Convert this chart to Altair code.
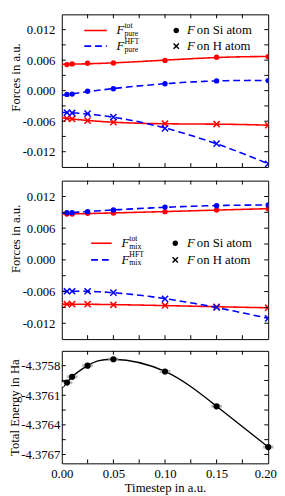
import altair as alt
import pandas as pd

# ---------------- data ----------------
timesteps = [0.005, 0.01, 0.025, 0.05, 0.1, 0.15, 0.2]

pure_tot_si = [0.00513, 0.00526, 0.00538, 0.00544, 0.00594, 0.00656, 0.00668]
pure_hft_si = [-0.00074, -0.00068, -0.00012, 0.00037, 0.00136, 0.00192, 0.00198]
pure_tot_h = [-0.00544, -0.00557, -0.00588, -0.00620, -0.00650, -0.00660, -0.00680]
pure_hft_h = [-0.00433, -0.00439, -0.00452, -0.00520, -0.00742, -0.01040, -0.01440]

mix_tot_si = [0.00869, 0.00869, 0.00881, 0.00888, 0.00913, 0.00944, 0.00969]
mix_hft_si = [0.00894, 0.00894, 0.00913, 0.00944, 0.01000, 0.01025, 0.01038]
mix_tot_h = [-0.00838, -0.00838, -0.00838, -0.00850, -0.00863, -0.00888, -0.00906]
mix_hft_h = [-0.00594, -0.00594, -0.00594, -0.00619, -0.00738, -0.00900, -0.01106]

energy = [-4.375972, -4.375913, -4.375800, -4.375735, -4.375859, -4.376212, -4.376625]
extrap_step = [0.0]
extrap_energy = [-4.37599]

x_labels = [0.0, 0.05, 0.1, 0.15, 0.2]
x_ticks = [0.025, 0.05, 0.075, 0.1, 0.125, 0.15, 0.175]
force_labels = [-0.012, -0.006, 0.0, 0.006, 0.012]
force_ticks = [-0.012, -0.009, -0.006, -0.003, 0.0, 0.003, 0.006, 0.009, 0.012]
energy_labels = [-4.3767, -4.3764, -4.3761, -4.3758]
energy_ticks = [-4.3767, -4.37655, -4.3764, -4.37625, -4.3761, -4.37595, -4.3758]

# ---------------- styling ----------------
W = 211
H1, H2, H3 = 156, 162, 115
TL = 4
FONT = "Liberation Serif, Times New Roman, DejaVu Serif, serif"
RED = "#ff0000"
BLUE = "#0000ff"
MINUS = "\u2212"
X_DOMAIN = [0, 0.2]
FORCE_DOMAIN = [-0.015, 0.015]
ENERGY_DOMAIN = [-4.37679, -4.37565]
CROSS = "M-1,-1L1,1M-1,1L1,-1"

one = alt.Data(values=[{}])


def force_frame(si_tot, si_hft, h_tot, h_hft):
    rows = []
    for kind, atom, vals in [("tot", "Si", si_tot), ("HFT", "Si", si_hft),
                             ("tot", "H", h_tot), ("HFT", "H", h_hft)]:
        for t, v in zip(timesteps, vals):
            rows.append({"t": t, "F": v, "kind": kind, "atom": atom, "series": kind + atom})
    return pd.DataFrame(rows)


def txt(s, x, y, size=13, italic=False):
    return alt.Chart(one).mark_text(
        text=s, font=FONT, fontSize=size, fontStyle="italic" if italic else "normal",
        align="left", baseline="middle", color="black"
    ).encode(x=alt.value(x), y=alt.value(y))


def tick_rules(x_enc, y_enc, xfield, yfield, xt, yt, h):
    xdf = pd.DataFrame({xfield: xt})
    ydf = pd.DataFrame({yfield: yt})
    bx = alt.Chart(xdf).mark_rule(color="black", strokeWidth=1)
    by = alt.Chart(ydf).mark_rule(color="black", strokeWidth=1)
    return [
        bx.encode(x=x_enc, y=alt.value(0), y2=alt.value(TL)),
        bx.encode(x=x_enc, y=alt.value(h), y2=alt.value(h - TL)),
        by.encode(y=y_enc, x=alt.value(0), x2=alt.value(TL)),
        by.encode(y=y_enc, x=alt.value(W), x2=alt.value(W - TL)),
    ]


color_enc = alt.Color("kind:N", scale=alt.Scale(domain=["tot", "HFT"], range=[RED, BLUE]), legend=None)
dash_enc = alt.StrokeDash("kind:N", scale=alt.Scale(domain=["tot", "HFT"], range=[[1, 0], [7, 4]]), legend=None)


def force_panel(df, h, title_y, sub, leg):
    x_enc = alt.X("t:Q", scale=alt.Scale(domain=X_DOMAIN, nice=False, zero=False), axis=None)
    y_enc = alt.Y("F:Q", scale=alt.Scale(domain=FORCE_DOMAIN, nice=False, zero=False),
                  axis=alt.Axis(values=force_labels, format=".3f",
                                labelExpr=f"replace(datum.label, '{MINUS}', '-')",
                                ticks=False, domain=False, grid=False,
                                title="Forces in a.u.", titleY=title_y,
                                labelPadding=7, titlePadding=0))
    base = alt.Chart(df)
    # smooth fit curves (computed by Vega from the plotted points), drawn over the full 0..0.2 range
    lines = base.transform_regression(
        "t", "F", groupby=["kind", "atom", "series"], method="poly", order=3, extent=X_DOMAIN
    ).mark_line(strokeWidth=1.6, clip=True).encode(
        x=x_enc, y=y_enc, color=color_enc, strokeDash=dash_enc, detail="series:N")
    si = base.transform_filter(alt.datum.atom == "Si").mark_point(
        shape="circle", filled=True, size=30, opacity=1, clip=True).encode(x=x_enc, y=y_enc, color=color_enc)
    hh = base.transform_filter(alt.datum.atom == "H").mark_point(
        shape=CROSS, filled=False, size=40, strokeWidth=1.5, opacity=1, clip=True).encode(
        x=x_enc, y=y_enc, stroke=alt.Stroke("kind:N", scale=alt.Scale(domain=["tot", "HFT"], range=[RED, BLUE]), legend=None))
    layers = [lines, si, hh] + tick_rules(x_enc, y_enc, "t", "F", x_ticks, force_ticks, h)

    lx1, lx2, fx, y1, y2, bx, sx = leg
    layers += [
        alt.Chart(one).mark_rule(color=RED, strokeWidth=1.6).encode(
            x=alt.value(lx1), x2=alt.value(lx2), y=alt.value(y1)),
        alt.Chart(one).mark_rule(color=BLUE, strokeWidth=1.6, strokeDash=[7, 4]).encode(
            x=alt.value(lx1), x2=alt.value(lx2), y=alt.value(y2)),
        txt("F", fx, y1, italic=True),
        txt("tot", fx + 8, y1 - 4.5, size=8),
        txt(sub, fx + 8, y1 + 3.5, size=8),
        txt("F", fx, y2, italic=True),
        txt("HFT", fx + 8, y2 - 4.5, size=8),
        txt(sub, fx + 8, y2 + 3.5, size=8),
        alt.Chart(one).mark_point(shape="circle", filled=True, size=30, color="black", opacity=1).encode(
            x=alt.value(bx), y=alt.value(y1)),
        alt.Chart(one).mark_point(shape=CROSS, filled=False, size=30, strokeWidth=1.5, color="black", opacity=1).encode(
            x=alt.value(bx), y=alt.value(y2)),
        txt("F", sx, y1, italic=True),
        txt("on Si atom", sx + 10, y1),
        txt("F", sx, y2, italic=True),
        txt("on H atom", sx + 10, y2),
    ]
    return alt.layer(*layers).properties(width=W, height=h)


p1 = force_panel(force_frame(pure_tot_si, pure_hft_si, pure_tot_h, pure_hft_h), H1, 64, "pure",
                 (23, 46, 56, 16.5, 32.5, 117, 128))
p2 = force_panel(force_frame(mix_tot_si, mix_hft_si, mix_tot_h, mix_hft_h), H2, 59, "mix",
                 (30, 51, 61, 64, 81, 116, 128))

# ---------------- energy panel ----------------
edf = pd.DataFrame({"t": timesteps, "E": energy})
curve_df = pd.DataFrame({"t": extrap_step + timesteps, "E": extrap_energy + energy})
ex_df = pd.DataFrame({"t": extrap_step, "E": extrap_energy})

ex_enc = alt.X("t:Q", scale=alt.Scale(domain=X_DOMAIN, nice=False, zero=False),
               axis=alt.Axis(values=x_labels, format=".2f", ticks=False, domain=False, grid=False,
                             labelFlush=False,
                             title="Timestep in a.u.", labelPadding=4, titlePadding=2,
                             labelOffset={"condition": {"test": "datum.value >= 0.2", "value": -3}, "value": 0}))
ey_enc = alt.Y("E:Q", scale=alt.Scale(domain=ENERGY_DOMAIN, nice=False, zero=False),
               axis=alt.Axis(values=energy_labels, format=".4f",
                             labelExpr=f"replace(datum.label, '{MINUS}', '-')",
                             ticks=False, domain=False, grid=False,
                             title="Total Energy in Ha", labelPadding=2, titlePadding=-1))

e_layers = [
    alt.Chart(curve_df).mark_line(interpolate="natural", color="black", strokeWidth=1.4, clip=True).encode(x=ex_enc, y=ey_enc),
    alt.Chart(edf).mark_tick(orient="horizontal", color="#a0a0a0", size=11, thickness=3).encode(x=ex_enc, y=ey_enc),
    alt.Chart(edf).mark_point(shape="circle", filled=True, size=40, color="black", opacity=1).encode(x=ex_enc, y=ey_enc),
    alt.Chart(ex_df).mark_point(shape="circle", filled=True, fill="white", stroke="black", strokeWidth=1,
                                size=40, opacity=1, clip=True).encode(x=ex_enc, y=ey_enc),
] + tick_rules(ex_enc, ey_enc, "t", "E", x_ticks, energy_ticks, H3)

p3 = alt.layer(*e_layers).properties(width=W, height=H3)

chart = alt.vconcat(alt.vconcat(p1, p2, spacing=12), p3, spacing=10).properties(
    padding=0, background="white"
).configure_view(stroke="black", strokeWidth=1).configure_axis(
    labelFont=FONT, titleFont=FONT, labelFontSize=13, titleFontSize=13,
    titleFontWeight="normal", labelColor="black", titleColor="black"
)

chart.save("out.html", embed_options={"renderer": "svg", "actions": False})
